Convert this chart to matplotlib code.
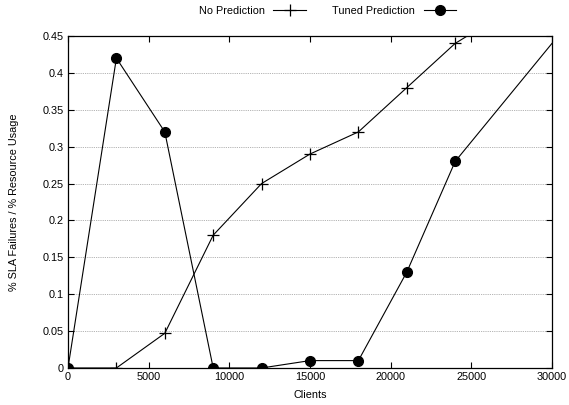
import matplotlib
matplotlib.use('Agg')
import matplotlib.pyplot as plt
from matplotlib.ticker import MultipleLocator

plt.rcParams['font.family'] = ['Liberation Sans', 'DejaVu Sans']

# data
clients_no = [0, 3000, 6000, 9000, 12000, 15000, 18000, 21000, 24000, 27000]
no_prediction = [0, 0, 0.047, 0.18, 0.25, 0.29, 0.32, 0.38, 0.44, 0.48]

clients_tuned = [0, 3000, 6000, 9000, 12000, 15000, 18000, 21000, 24000, 33000]
tuned_prediction = [0, 0.42, 0.32, 0, 0, 0.01, 0.01, 0.13, 0.28, 0.52]

fig = plt.figure(figsize=(5.69, 4.05), dpi=100)
ax = fig.add_axes([0.1195, 0.0914, 0.8506, 0.8197])

ax.plot(clients_no, no_prediction, color='black', linewidth=0.8, marker='+',
        markersize=9, markeredgewidth=0.9, label='No Prediction')
ax.plot(clients_tuned, tuned_prediction, color='black', linewidth=0.8, marker='o',
        markersize=7, label='Tuned Prediction')

ax.set_xlim(0, 30000)
ax.set_ylim(0, 0.45)
ax.xaxis.set_major_locator(MultipleLocator(5000))
ax.set_yticks([0, 0.05, 0.1, 0.15, 0.2, 0.25, 0.3, 0.35, 0.4, 0.45])
ax.set_yticklabels(['0', '0.05', '0.1', '0.15', '0.2', '0.25', '0.3', '0.35', '0.4', '0.45'])

ax.tick_params(direction='in', top=True, right=True, length=4, width=0.8,
               labelsize=7.8, pad=3)
for s in ax.spines.values():
    s.set_linewidth(0.9)

# dotted horizontal grid
for yv in [0.05, 0.1, 0.15, 0.2, 0.25, 0.3, 0.35, 0.4]:
    ax.axhline(yv, color='#999999', linestyle=(0, (1, 1.2)), linewidth=0.6, zorder=0)

ax.set_xlabel('Clients', fontsize=7.8, labelpad=6)
ax.set_ylabel('% SLA Failures / % Resource Usage', fontsize=7.8, labelpad=17)

ax.legend(loc='center', bbox_to_anchor=(0.536, 1.075), ncol=2, frameon=False,
          markerfirst=False, fontsize=7.8, handlelength=3, columnspacing=2.4,
          handletextpad=0.8, borderaxespad=0.0)

fig.savefig('out.png', dpi=100)
